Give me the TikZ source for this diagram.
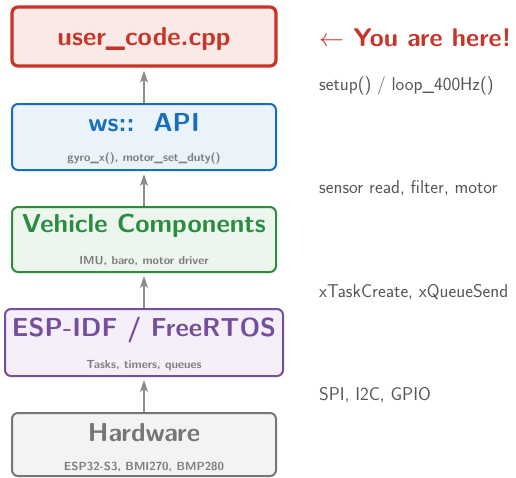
\documentclass[tikz,border=0pt]{standalone}
\usetikzlibrary{arrows.meta}
\definecolor{cRed}{RGB}{200,52,38}
\definecolor{cRedFill}{RGB}{250,233,231}
\definecolor{cBlue}{RGB}{24,110,190}
\definecolor{cBlueFill}{RGB}{234,242,250}
\definecolor{cGreen}{RGB}{42,140,62}
\definecolor{cGreenFill}{RGB}{236,246,238}
\definecolor{cPurple}{RGB}{118,78,158}
\definecolor{cPurpleFill}{RGB}{244,239,249}
\definecolor{cGray}{RGB}{118,118,118}
\definecolor{cGrayFill}{RGB}{243,243,243}
\definecolor{cSub}{RGB}{125,125,125}
\definecolor{cNote}{RGB}{85,85,85}
\definecolor{cArrow}{RGB}{140,140,140}
\tikzset{
  layer/.style={draw=#1, line width=2pt, rounded corners=6pt, fill=#1Fill,
    minimum width=264pt, inner sep=0pt},
  title/.style={font=\sffamily\bfseries\fontsize{26}{30}\selectfont, inner sep=0pt, anchor=base},
  sub/.style={font=\sffamily\bfseries\fontsize{11.7}{14}\selectfont, text=cSub, inner sep=0pt, anchor=base},
  note/.style={font=\sffamily\fontsize{18.5}{22}\selectfont, text=cNote, inner sep=0pt, anchor=base west},
  uparrow/.style={draw=cArrow, line width=1.3pt, -{Stealth[length=12pt,width=8pt,inset=3pt]}, shorten >=3pt}
}
\begin{document}
\begin{tikzpicture}[x=1pt,y=-1pt]
\useasboundingbox (0,0) rectangle (516,477);
% layer boxes
\node[layer=cRed, line width=3.2pt, minimum height=59pt] (user) at (144,36.5) {};
\node[layer=cBlue, minimum height=66pt] (api) at (144,137) {};
\node[layer=cGreen, minimum height=65pt] (veh) at (144,239.5) {};
\node[layer=cPurple, minimum width=278pt, minimum height=67pt] (esp) at (144,342.5) {};
\node[layer=cGray, minimum height=63pt] (hw) at (144,444.5) {};
% titles and details
\node[title, text=cRed] (userT) at (144,45) {user\_code.cpp};
\node[title, text=cBlue] (apiT) at (144,131) {ws::\ \ API};
\node[sub] (apiS) at (144,161) {gyro\_x(), motor\_set\_duty()};
\node[title, text=cGreen] (vehT) at (144,232) {Vehicle Components};
\node[sub] (vehS) at (144,264) {IMU, baro, motor driver};
\node[title, text=cPurple] (espT) at (144,336) {ESP-IDF / FreeRTOS};
\node[sub] (espS) at (144,368) {Tasks, timers, queues};
\node[title, text=cGray] (hwT) at (144,441) {Hardware};
\node[sub] (hwS) at (144,470) {ESP32-S3, BMI270, BMP280};
% connectors
\draw[uparrow] (api.north) -- (user.south);
\draw[uparrow] (veh.north) -- (api.south);
\draw[uparrow] (esp.north) -- (veh.south);
\draw[uparrow] (hw.north) -- (esp.south);
% annotations
\node[note, font=\sffamily\bfseries\fontsize{25.5}{30}\selectfont, text=cRed] (here) at (319,46) {$\leftarrow$ You are here!};
\node[note] (n1) at (319,90) {setup() / loop\_400Hz()};
\node[note] (n2) at (319,193) {sensor read, filter, motor};
\node[note] (n3) at (319,297) {xTaskCreate, xQueueSend};
\node[note] (n4) at (319,400) {SPI, I2C, GPIO};
\end{tikzpicture}
\end{document}
